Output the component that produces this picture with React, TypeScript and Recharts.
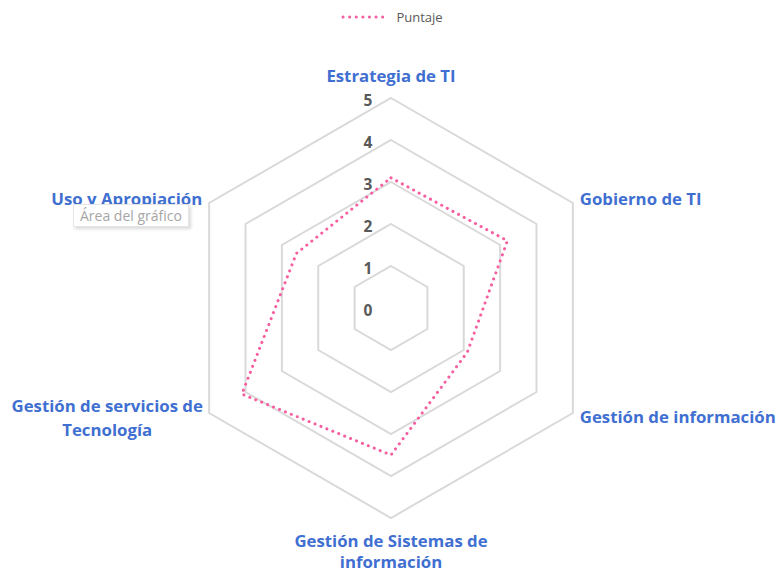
import React from 'react';
import {
  RadarChart,
  Radar,
  PolarGrid,
  PolarAngleAxis,
  PolarRadiusAxis,
  Legend,
} from 'recharts';

const categories = [
  'Estrategia de TI',
  'Gobierno de TI',
  'Gestión de información',
  'Gestión de Sistemas de información',
  'Gestión de servicios de Tecnología',
  'Uso y Apropiación',
];
const puntaje = [3.1, 3.2, 2.1, 3.5, 4.1, 2.6];
const labelLines = [
  ['Estrategia de TI'],
  ['Gobierno de TI'],
  ['Gestión de información'],
  ['Gestión de Sistemas de', 'información'],
  ['Gestión de servicios de', 'Tecnología'],
  ['Uso y Apropiación'],
];
const radiusTicks = [0, 1, 2, 3, 4, 5];

const data = categories.map((c, i) => ({ categoria: c, Puntaje: puntaje[i] }));

const FONT = '"Open Sans", sans-serif';
const PINK = '#F65EA0';
const BLUE = '#3F6FD1';

function AngleTick(props: any) {
  const { x, y, payload } = props;
  const idx = categories.indexOf(payload.value);
  const lines = labelLines[idx] || [payload.value];
  let anchor: 'start' | 'middle' | 'end' = 'middle';
  let tx = x;
  let ty = y;
  let gap = 24;
  if (idx === 0) {
    ty = y - 15;
  } else if (idx === 1 || idx === 2) {
    anchor = 'start';
    ty = y - 1;
  } else if (idx === 3) {
    ty = y + 14;
    gap = 21;
  } else if (idx === 4) {
    tx = x - 95;
    ty = y - 12;
  } else if (idx === 5) {
    anchor = 'end';
    ty = y - 1;
  }
  return (
    <text
      x={tx}
      y={ty}
      textAnchor={anchor}
      fill={BLUE}
      fontFamily={FONT}
      fontWeight={700}
      fontSize={16.8}
      dominantBaseline="central"
    >
      {lines.map((l, i) => (
        <tspan key={i} x={tx} dy={i === 0 ? 0 : gap}>
          {l}
        </tspan>
      ))}
    </text>
  );
}

function RadiusTick(props: any) {
  const { x, y, payload } = props;
  return (
    <text
      x={x - 23}
      y={y + 2}
      textAnchor="middle"
      dominantBaseline="central"
      fill="#595959"
      fontFamily={FONT}
      fontWeight={700}
      fontSize={15.5}
    >
      {payload.value}
    </text>
  );
}

function LegendContent() {
  return (
    <div style={{ display: 'flex', justifyContent: 'center', alignItems: 'center', paddingLeft: 6 }}>
      <svg width={52} height={10} style={{ marginRight: 4 }}>
        <line
          x1={3}
          y1={5}
          x2={49}
          y2={5}
          stroke={PINK}
          strokeWidth={3}
          strokeLinecap="round"
          strokeDasharray="0.1 6.5"
        />
      </svg>
      <span style={{ fontFamily: FONT, fontSize: 13, color: '#595959' }}>Puntaje</span>
    </div>
  );
}

export default function App() {
  return (
    <div style={{ position: 'absolute', left: 0, top: 0, width: 777, height: 571, background: '#fff' }}>
      <RadarChart
        width={777}
        height={571}
        data={data}
        cx={391}
        cy={308}
        outerRadius={210}
        margin={{ top: 0, right: 0, bottom: 0, left: 0 }}
      >
        <PolarGrid gridType="polygon" radialLines={false} stroke="#D9D9D9" strokeWidth={2} />
        <PolarAngleAxis dataKey="categoria" tick={<AngleTick />} tickLine={false} axisLine={false} />
        <PolarRadiusAxis
          angle={90}
          domain={[0, 5]}
          ticks={radiusTicks as any}
          tickCount={6}
          axisLine={false}
          tickLine={false}
          tick={<RadiusTick />}
        />
        <Radar
          name="Puntaje"
          dataKey="Puntaje"
          stroke={PINK}
          strokeWidth={3}
          strokeLinecap="round"
          strokeDasharray="0.1 6.3"
          fill="none"
          fillOpacity={0}
          dot={false}
          isAnimationActive={false}
        />
        <Legend verticalAlign="top" wrapperStyle={{ top: 8 }} content={<LegendContent />} />
      </RadarChart>
      <div
        style={{
          position: 'absolute',
          left: 73,
          top: 204,
          padding: '1px 6px',
          background: '#fff',
          border: '1px solid #E6E6E6',
          boxShadow: '2px 2px 3px rgba(0,0,0,0.15)',
          fontFamily: FONT,
          fontSize: 14,
          color: '#A6A6A6',
        }}
      >
        Área del gráfico
      </div>
    </div>
  );
}
